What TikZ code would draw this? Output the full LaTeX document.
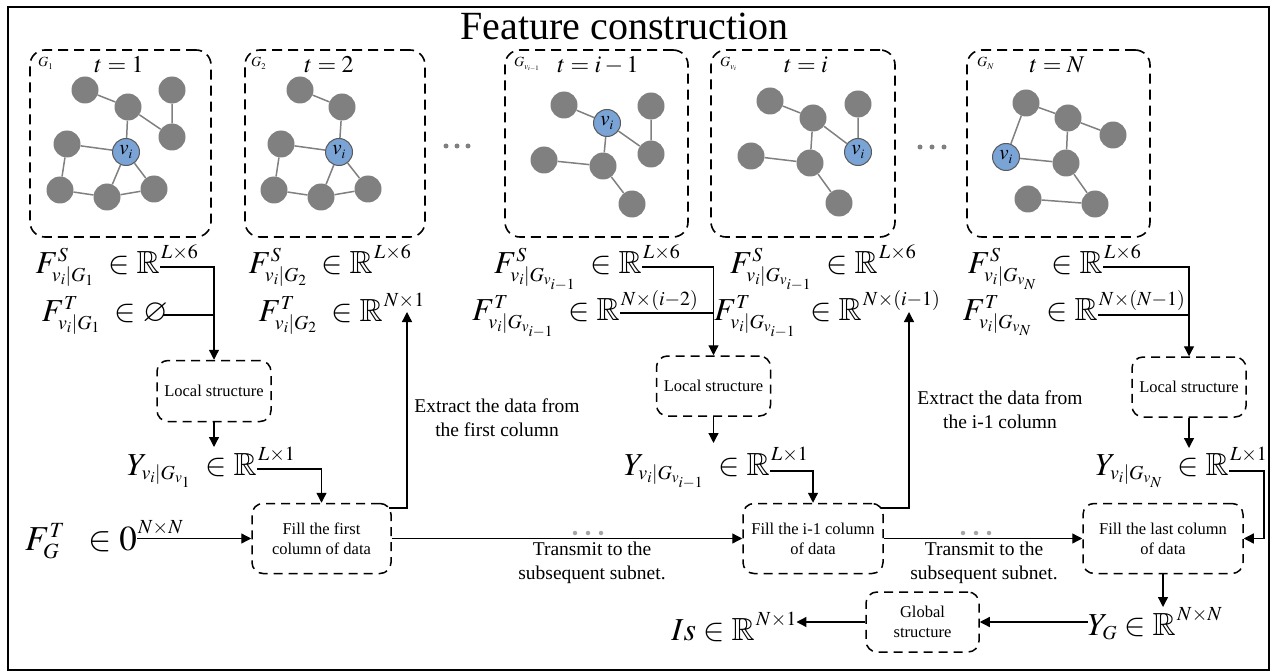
\documentclass[tikz,border=0pt]{standalone}
\usepackage{amssymb}
\usepackage{mathptmx}
\usepackage{fontspec}
\setmainfont{Liberation Serif}
\usetikzlibrary{arrows.meta,calc}
\definecolor{vblue}{RGB}{122,163,214}
\definecolor{ngray}{RGB}{128,128,128}
\renewcommand{\defaultscriptratio}{.62}
\renewcommand{\defaultscriptscriptratio}{.48}
\begin{document}
\begin{tikzpicture}[x=1pt,y=-1pt,
  mth/.style={inner sep=0pt, font=\fontsize{32}{38}\selectfont},
  supx/.style={inner sep=0pt, font=\fontsize{20}{24}\selectfont, anchor=base west},
  gbox/.style={draw, dash pattern=on 10pt off 6pt, rounded corners=15pt, line width=1.6pt},
  sbox/.style={draw, dash pattern=on 9pt off 6pt, rounded corners=11pt, line width=1.5pt, align=center, font=\fontsize{16.5}{20}\selectfont, inner sep=0pt},
  arr/.style={line width=1.3pt, -{Triangle[length=10pt,width=10pt]}},
  ln/.style={line width=1.3pt},
  gn/.style={circle, fill=ngray, minimum size=27pt, inner sep=0pt},
  vn/.style={circle, fill=vblue, draw=gray!70!black, line width=1pt, minimum size=27pt, inner sep=0pt, font=\fontsize{21}{21}\selectfont},
  ge/.style={draw=ngray, line width=1.5pt},
  glab/.style={inner sep=0pt, anchor=base west, font=\fontsize{14}{14}\selectfont},
  tlab/.style={inner sep=0pt, anchor=base, font=\fontsize{24}{24}\selectfont},
  txt/.style={align=center, inner sep=0pt, font=\fontsize{19.5}{24}\selectfont},
  dot/.style={circle, fill=gray, inner sep=0pt, minimum size=5pt},
  ldot/.style={circle, fill=gray!70, inner sep=0pt, minimum size=4.5pt}]
\useasboundingbox (0,0) rectangle (1271,671);
\draw[line width=2pt] (7.5,7.5) rectangle (1269,669.5);
\node[font=\fontsize{40}{48}\selectfont, anchor=base, inner sep=0pt] (title) at (624.5,40) {Feature construction};

% graph boxes
\node[gbox, minimum width=181pt, minimum height=187pt] (g1) at (120.5,143.5) {};
\node[gbox, minimum width=180pt, minimum height=187pt] (g2) at (335,143.5) {};
\node[gbox, minimum width=183pt, minimum height=187pt] (g3) at (596.5,143.5) {};
\node[gbox, minimum width=184pt, minimum height=187pt] (g4) at (803,143.5) {};
\node[gbox, minimum width=183pt, minimum height=187pt] (g5) at (1058.5,143.5) {};
\node[glab] (g1l) at (38,67) {$G_1$};
\node[glab] (g2l) at (251,67) {$G_2$};
\node[glab] (g3l) at (514,67) {$G_{v_{i-1}}$};
\node[glab] (g4l) at (720,67) {$G_{v_i}$};
\node[glab] (g5l) at (977,67) {$G_N$};
\node[tlab] (t1) at (119,73) {$t=1$};
\node[tlab] (t2) at (329,73) {$t=2$};
\node[tlab] (t3) at (598,73) {$t=i-1$};
\node[tlab] (t4) at (806,73) {$t=i$};
\node[tlab] (t5) at (1057,73) {$t=N$};

% box 1 graph
\node[gn] (a1) at (85,90) {};
\node[gn] (a2) at (128,107) {};
\node[gn] (a3) at (172,90) {};
\node[gn] (a4) at (67,144) {};
\node[vn] (av) at (126,152) {$v_i$};
\node[gn] (a5) at (172,137) {};
\node[gn] (a6) at (60,190) {};
\node[gn] (a7) at (107,197) {};
\node[gn] (a8) at (154,189) {};
\draw[ge] (a1)--(a2) (a2)--(av) (a2)--(a5) (a3)--(a5) (a4)--(av) (a4)--(a6) (a6)--(a7) (av)--(a7) (av)--(a8) (a7)--(a8);
% box 2 graph
\node[gn] (b1) at (300,90) {};
\node[gn] (b2) at (342,107) {};
\node[vn] (bv) at (339,152) {$v_i$};
\node[gn] (b4) at (281,144) {};
\node[gn] (b6) at (274,190) {};
\node[gn] (b7) at (321,197) {};
\node[gn] (b8) at (368,189) {};
\draw[ge] (b1)--(b2) (b2)--(bv) (b4)--(bv) (b4)--(b6) (b6)--(b7) (bv)--(b7) (bv)--(b8) (b7)--(b8);
% box 3 graph
\node[gn] (c1) at (564,105) {};
\node[vn] (cv) at (607,123) {$v_i$};
\node[gn] (c3) at (651,106) {};
\node[gn] (c4) at (544,160) {};
\node[gn] (c5) at (651,154) {};
\node[gn] (c6) at (603,166) {};
\node[gn] (c7) at (632,204) {};
\draw[ge] (c1)--(cv) (cv)--(c5) (c3)--(c5) (cv)--(c6) (c4)--(c6) (c6)--(c7);
% box 4 graph
\node[gn] (d1) at (770,101) {};
\node[gn] (d2) at (813,118) {};
\node[gn] (d3) at (858,104) {};
\node[vn] (dv) at (858,152) {$v_i$};
\node[gn] (d4) at (751,156) {};
\node[gn] (d6) at (810,163) {};
\node[gn] (d7) at (839,203) {};
\draw[ge] (d1)--(d2) (d2)--(dv) (d3)--(dv) (d2)--(d6) (d4)--(d6) (d6)--(d7);
% box 5 graph
\node[gn] (e1) at (1026,103) {};
\node[gn] (e2) at (1068,118) {};
\node[gn] (e3) at (1113,135) {};
\node[vn] (ev) at (1006,157) {$v_i$};
\node[gn] (e6) at (1066,163) {};
\node[gn] (e7) at (1028,199) {};
\node[gn] (e8) at (1095,204) {};
\draw[ge] (e1)--(e2) (e1)--(ev) (e2)--(e3) (e2)--(e6) (ev)--(e6) (e6)--(e8) (e7)--(e8);

% dots between boxes
\node[dot] (p1) at (446,146) {};
\node[dot] (p2) at (457,146) {};
\node[dot] (p3) at (468,146) {};
\node[dot] (q1) at (920,147) {};
\node[dot] (q2) at (932,147) {};
\node[dot] (q3) at (944,147) {};

% feature rows
\node[mth, anchor=base east] (fs1) at (160,273) {$F^{S}_{v_i|G_1}\;\in\mathbb{R}$};
\node[supx] (fs1x) at ([xshift=1pt,yshift=15pt]fs1.base east) {$L{\times}6$};
\node[mth, anchor=base east] (ft1) at (168,321) {$F^{T}_{v_i|G_1}\;\in\varnothing$};
\node[mth, anchor=base east] (fs2) at (373,273) {$F^{S}_{v_i|G_2}\;\in\mathbb{R}$};
\node[supx] (fs2x) at ([xshift=1pt,yshift=15pt]fs2.base east) {$L{\times}6$};
\node[mth, anchor=base east] (ft2) at (383,321) {$F^{T}_{v_i|G_2}\;\in\mathbb{R}$};
\node[supx] (ft2x) at ([xshift=1pt,yshift=15pt]ft2.base east) {$N{\times}1$};
\node[mth, anchor=base east] (fs3) at (642,273) {$F^{S}_{v_i|G_{v_{i-1}}}\;\in\mathbb{R}$};
\node[supx] (fs3x) at ([xshift=1pt,yshift=15pt]fs3.base east) {$L{\times}6$};
\node[mth, anchor=base east] (ft3) at (620,320) {$F^{T}_{v_i|G_{v_{i-1}}}\;\in\mathbb{R}$};
\node[supx] (ft3x) at ([xshift=1pt,yshift=15pt]ft3.base east) {$N{\times}(i{-}2)$};
\node[mth, anchor=base east] (fs4) at (878,273) {$F^{S}_{v_i|G_{v_{i-1}}}\;\in\mathbb{R}$};
\node[supx] (fs4x) at ([xshift=1pt,yshift=15pt]fs4.base east) {$L{\times}6$};
\node[mth, anchor=base east] (ft4) at (862,320) {$F^{T}_{v_i|G_{v_{i-1}}}\;\in\mathbb{R}$};
\node[supx] (ft4x) at ([xshift=1pt,yshift=15pt]ft4.base east) {$N{\times}(i{-}1)$};
\node[mth, anchor=base east] (fs5) at (1103,273) {$F^{S}_{v_i|G_{v_N}}\;\in\mathbb{R}$};
\node[supx] (fs5x) at ([xshift=1pt,yshift=15pt]fs5.base east) {$L{\times}6$};
\node[mth, anchor=base east] (ft5) at (1098,320) {$F^{T}_{v_i|G_{v_N}}\;\in\mathbb{R}$};
\node[supx] (ft5x) at ([xshift=1pt,yshift=15pt]ft5.base east) {$N{\times}(N{-}1)$};

% local structure boxes
\node[sbox, minimum width=114pt, minimum height=61pt] (l1) at (214,391) {Local structure};
\node[sbox, minimum width=114pt, minimum height=60pt] (l2) at (713.5,386) {Local structure};
\node[sbox, minimum width=114pt, minimum height=60pt] (l3) at (1189,387) {Local structure};

% Y rows
\node[mth, anchor=base east] (y1) at (257,475) {$Y_{v_i|G_{v_1}}\;\in\mathbb{R}$};
\node[supx] (y1x) at ([xshift=1pt,yshift=15pt]y1.base east) {$L{\times}1$};
\node[mth, anchor=base east] (y2) at (770,475) {$Y_{v_i|G_{v_{i-1}}}\;\in\mathbb{R}$};
\node[supx] (y2x) at ([xshift=1pt,yshift=15pt]y2.base east) {$L{\times}1$};
\node[mth, anchor=base east] (y3) at (1229,475) {$Y_{v_i|G_{v_N}}\;\in\mathbb{R}$};
\node[supx] (y3x) at ([xshift=1pt,yshift=15pt]y3.base east) {$L{\times}1$};

% fill boxes
\node[sbox, minimum width=139pt, minimum height=70pt] (f1) at (321.5,538.5) {Fill the first\\column of data};
\node[sbox, minimum width=140pt, minimum height=70pt] (f2) at (813,538.5) {Fill the i-1 column\\of data};
\node[sbox, minimum width=160pt, minimum height=70pt] (f3) at (1163,538.5) {Fill the last column\\of data};
\node[sbox, minimum width=113pt, minimum height=60pt] (gs) at (922.5,622) {Global\\structure};

\node[mth, anchor=base east, font=\fontsize{35}{40}\selectfont] (fg) at (137,550) {$F^{T}_{G}\;\;\in 0$};
\node[supx] (fgx) at ([xshift=1pt,yshift=17pt]fg.base east) {$N{\times}N$};
\node[mth, anchor=base east] (is) at (755,640) {$Is\in\mathbb{R}$};
\node[supx] (isx) at ([xshift=1pt,yshift=15pt]is.base east) {$N{\times}1$};
\node[mth, anchor=base east] (yg) at (1176,635) {$Y_G\in\mathbb{R}$};
\node[supx] (ygx) at ([xshift=1pt,yshift=15pt]yg.base east) {$N{\times}N$};

% texts
\node[txt] (ex1) at (497,418) {Extract the data from\\the first column};
\node[txt] (ex2) at (1000,410) {Extract the data from\\the i-1 column};
\node[txt] (tr1) at (592,563) {Transmit to the\\subsequent subnet.};
\node[txt] (tr2) at (984,563) {Transmit to the\\subsequent subnet.};
\node[ldot] (r1) at (575,533) {};
\node[ldot] (r2) at (588,533) {};
\node[ldot] (r3) at (601,533) {};
\node[ldot] (s1) at (963,533) {};
\node[ldot] (s2) at (976,533) {};
\node[ldot] (s3) at (989,533) {};

% coordinates
\coordinate (fs1o) at ([yshift=6pt]fs1.base east);
\coordinate (ft1o) at ([xshift=-5pt,yshift=6pt]ft1.base east);
\coordinate (fs3o) at ([yshift=6pt]fs3.base east);
\coordinate (ft3o) at ([yshift=7pt]ft3.base east);
\coordinate (fs5o) at ([yshift=6pt]fs5.base east);
\coordinate (ft5o) at ([yshift=5pt]ft5.base east);
\coordinate (y1o) at ([yshift=6pt]y1.base east);
\coordinate (y2o) at ([yshift=4pt]y2.base east);
\coordinate (y3o) at ([yshift=4pt]y3.base east);
\coordinate (y1t) at (214,447);
\coordinate (y2t) at (713.5,443);
\coordinate (y3t) at (1189,448);
\coordinate (up1) at (407,312);
\coordinate (up2) at (909,312);
\coordinate (f1r) at (389,508);
\coordinate (f2r) at (881,508);
\coordinate (y3r) at (1264,538.5);
\coordinate (ygt) at (1163,607);

% connectors
\draw[arr] (fs1o) -| (l1.north);
\draw[ln] (ft1o) -- (ft1o -| l1.north);
\draw[arr] (l1.south) -- (y1t);
\draw[arr] (y1o) -| (f1.north);
\draw[arr] (fg.east |- f1.west) -- (f1.west);
\draw[arr] (f1r) -| (up1);
\draw[arr] (f1.east) -- (f2.west);
\draw[arr] (fs3o) -| (l2.north);
\draw[ln] (ft3o) -- (ft3o -| l2.north);
\draw[arr] (l2.south) -- (y2t);
\draw[arr] (y2o) -| (f2.north);
\draw[arr] (f2r) -| (up2);
\draw[arr] (f2.east) -- (f3.west);
\draw[arr] (fs5o) -| (l3.north);
\draw[ln] (ft5o) -- (ft5o -| l3.north);
\draw[arr] (l3.south) -- (y3t);
\draw[arr] (y3o) -| (y3r) -- (f3.east);
\draw[arr] (f3.south) -- (ygt);
\draw[arr] (yg.west |- gs.east) -- (gs.east);
\draw[arr] (gs.west) -- (gs.west -| isx.east);
\end{tikzpicture}
\end{document}
